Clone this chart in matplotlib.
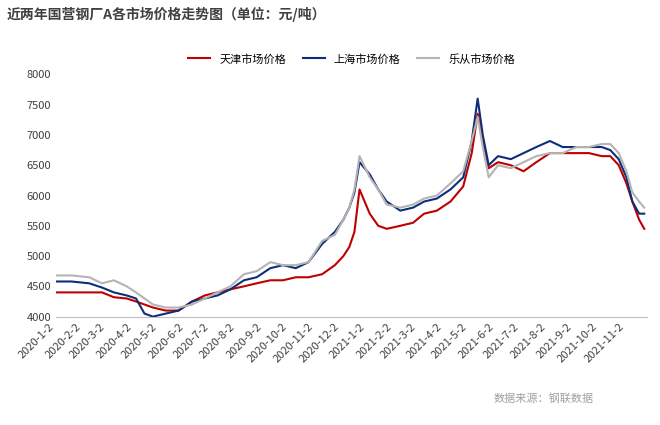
import matplotlib.pyplot as plt
import pandas as pd

plt.rcParams['font.family'] = ['Noto Sans CJK SC', 'DejaVu Sans']

dates = pd.to_datetime([
    '2020-01-02', '2020-01-20', '2020-02-10', '2020-02-25', '2020-03-10', '2020-03-25',
    '2020-04-05', '2020-04-15', '2020-04-25', '2020-05-10', '2020-05-25', '2020-06-10',
    '2020-06-25', '2020-07-10', '2020-07-25', '2020-08-10', '2020-08-25', '2020-09-10',
    '2020-09-25', '2020-10-10', '2020-10-25', '2020-11-10', '2020-11-25', '2020-12-05',
    '2020-12-12', '2020-12-18', '2020-12-24', '2021-01-05', '2021-01-15', '2021-01-25',
    '2021-02-10', '2021-02-25', '2021-03-10', '2021-03-25', '2021-04-10', '2021-04-25',
    '2021-05-05', '2021-05-12', '2021-05-18', '2021-05-25', '2021-06-05', '2021-06-20',
    '2021-07-05', '2021-07-20', '2021-08-05', '2021-08-20', '2021-09-05', '2021-09-20',
    '2021-10-05', '2021-10-15', '2021-10-25', '2021-11-03', '2021-11-10', '2021-11-18',
    '2021-11-24',
])
tianjin = [
    4400, 4400, 4400, 4400, 4320, 4300, 4250, 4200, 4150, 4100, 4100, 4250,
    4350, 4400, 4450, 4500, 4550, 4600, 4600, 4650, 4650, 4700, 4850, 5000,
    5150, 5400, 6100, 5700, 5500, 5450, 5500, 5550, 5700, 5750, 5900, 6150,
    6700, 7350, 6900, 6450, 6550, 6500, 6400, 6550, 6700, 6700, 6700, 6700,
    6650, 6650, 6500, 6200, 5900, 5600, 5450,
]
shanghai = [
    4580, 4580, 4550, 4480, 4400, 4350, 4300, 4050, 4000, 4050, 4100, 4250,
    4300, 4350, 4450, 4600, 4650, 4800, 4850, 4800, 4900, 5200, 5400, 5600,
    5800, 6050, 6550, 6350, 6100, 5900, 5750, 5800, 5900, 5950, 6100, 6300,
    6900, 7600, 7000, 6500, 6650, 6600, 6700, 6800, 6900, 6800, 6800, 6800,
    6800, 6750, 6600, 6300, 5900, 5700, 5700,
]
lecong = [
    4680, 4680, 4650, 4550, 4600, 4500, 4400, 4300, 4200, 4150, 4150, 4200,
    4300, 4400, 4500, 4700, 4750, 4900, 4850, 4850, 4900, 5250, 5350, 5600,
    5800, 6100, 6650, 6300, 6100, 5850, 5800, 5850, 5950, 6000, 6200, 6400,
    6900, 7300, 6800, 6300, 6500, 6450, 6550, 6650, 6700, 6700, 6800, 6800,
    6850, 6850, 6700, 6400, 6050, 5900, 5800,
]
tick_dates = pd.date_range('2020-01-01', '2021-11-01', freq='MS') + pd.Timedelta(days=1)
tick_labels = [f'{d.year}-{d.month}-{d.day}' for d in tick_dates]

fig = plt.figure(figsize=(6.6, 4.25), dpi=100)
ax = fig.add_axes([0.085, 0.255, 0.895, 0.57])
ax.plot(dates, tianjin, color='#c00000', lw=1.5, label='天津市场价格')
ax.plot(dates, shanghai, color='#0e2d7a', lw=1.5, label='上海市场价格')
ax.plot(dates, lecong, color='#b4b4b4', lw=1.5, label='乐从市场价格')

ax.set_ylim(4000, 8000)
ax.set_yticks(range(4000, 8001, 500))
ax.set_xlim(dates[0], pd.Timestamp('2021-11-27'))
ax.set_xticks(tick_dates)
ax.set_xticklabels(tick_labels, rotation=45, ha='right', fontsize=8, color='#404040')
ax.tick_params(axis='y', labelsize=8, colors='#404040', length=0)
ax.tick_params(axis='x', length=0)
for s in ['top', 'right', 'left']:
    ax.spines[s].set_visible(False)
ax.spines['bottom'].set_color('#bfbfbf')

ax.legend(loc='lower center', bbox_to_anchor=(0.5, 1.0), ncol=3, frameon=False,
          fontsize=8, handlelength=2.0, columnspacing=1.5)
fig.text(0.01, 0.965, '近两年国营钢厂A各市场价格走势图（单位：元/吨）', fontsize=10,
         fontweight='bold', color='#404040', va='center')
fig.text(0.9, 0.055, '数据来源：钢联数据', fontsize=8, color='#a0a0a0', ha='right')
fig.savefig('out.png', dpi=100)
